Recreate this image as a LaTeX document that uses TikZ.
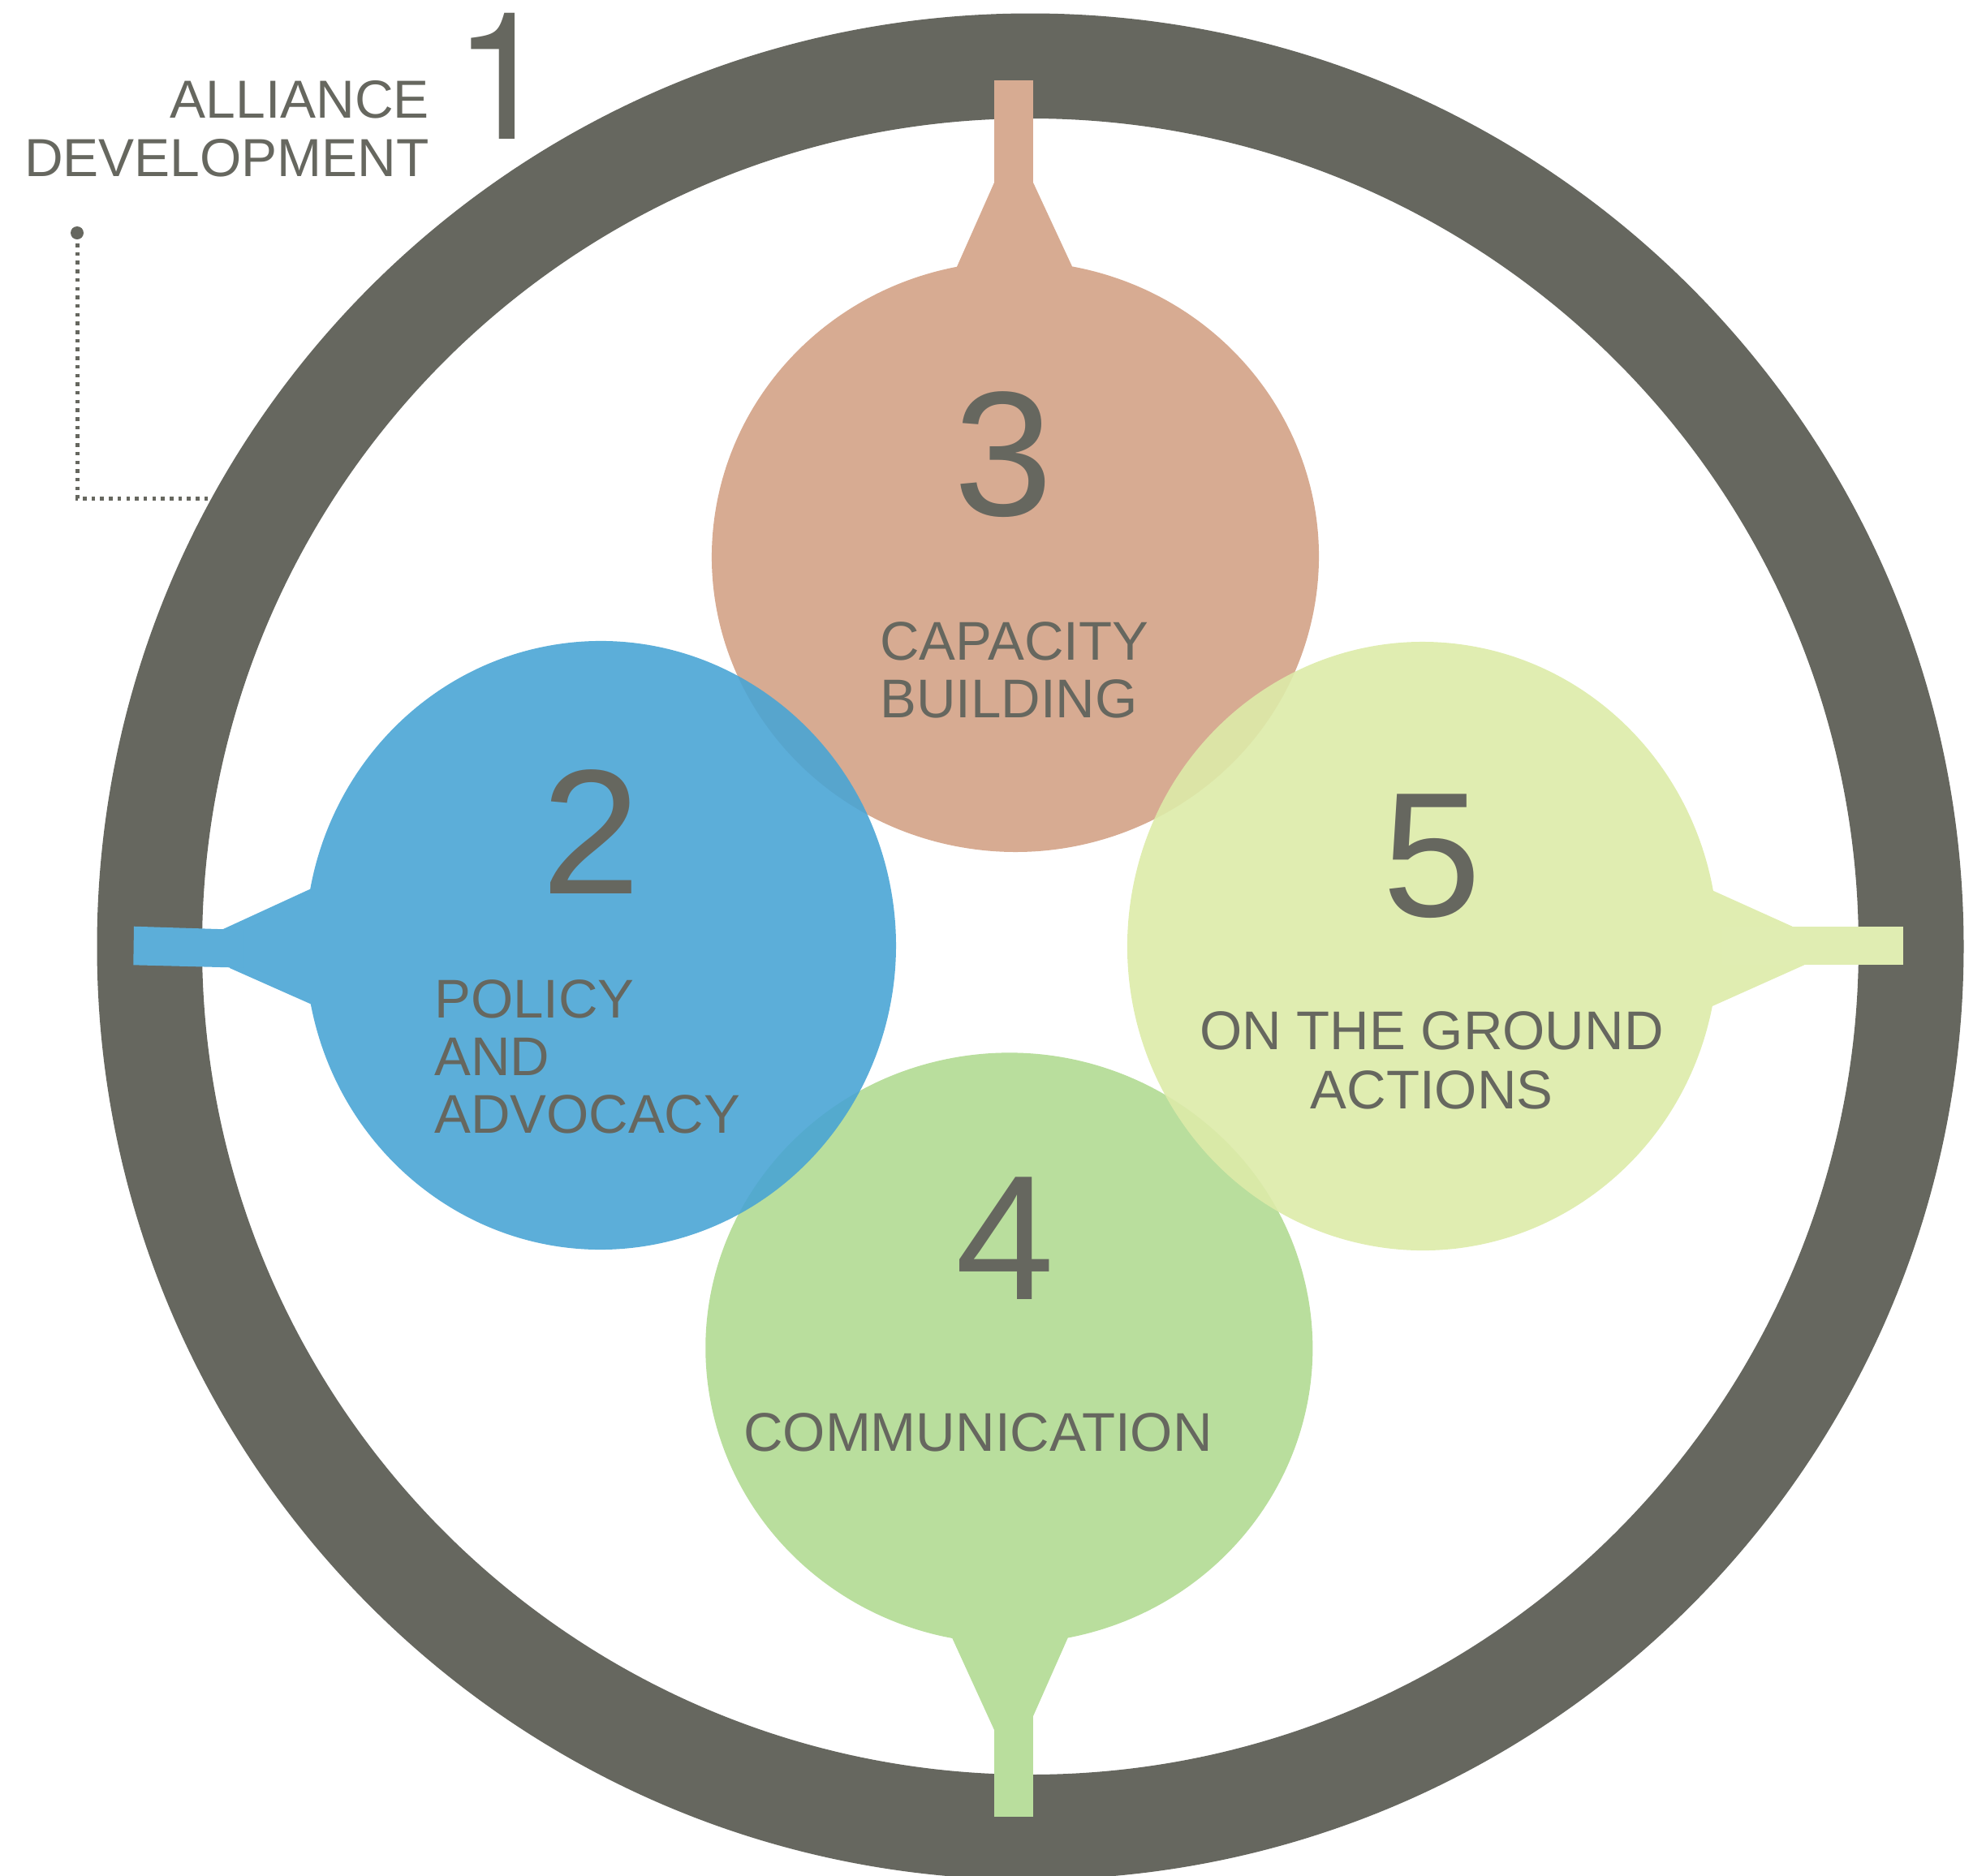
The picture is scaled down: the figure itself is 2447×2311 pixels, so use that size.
\documentclass[tikz,border=0pt]{standalone}
\usepackage{fontspec}
\setmainfont{Liberation Sans}
\newfontfamily\onefont{TeX Gyre Heros}
\definecolor{ringgray}{RGB}{102,103,95}
\definecolor{tanb}{RGB}{211,162,134}
\definecolor{tanobs}{RGB}{215,171,146}
\definecolor{blueb}{RGB}{74,165,213}
\definecolor{blueobs}{RGB}{92,174,217}
\definecolor{lgb}{RGB}{221,235,169}
\definecolor{lgobs}{RGB}{224,237,178}
\definecolor{grb}{RGB}{177,218,146}
\definecolor{grobs}{RGB}{185,222,157}
\tikzset{
  lbl/.style={font=\fontsize{66}{72}\selectfont, text=ringgray, inner sep=0pt},
  inlbl/.style={font=\fontsize{67.2}{72}\selectfont, text=ringgray, inner sep=0pt},
  num/.style={font=\fontsize{219}{240}\selectfont, text=ringgray, inner sep=0pt, anchor=base},
  bubble/.style={fill opacity=0.9},
  leader/.style={draw=ringgray, line width=5pt, dash pattern=on 4.5pt off 6.2pt},
}
\begin{document}
\begin{tikzpicture}[x=1pt,y=-1pt]
\useasboundingbox (0,0) rectangle (2447,2311);
\clip (0,0) rectangle (2447,2311);
% leader line
\coordinate (dotA) at (95,287);
\coordinate (dotS) at (95,300);
\coordinate (bend) at (95,614);
\coordinate (ringhit) at (266,614);
\draw[leader] (dotS) -- (bend) -- (ringhit);
\fill[ringgray] (dotA) circle[radius=8];
% outer ring
\coordinate (rc) at (1269.5,1166.5);
\fill[ringgray, even odd rule] (rc) circle[radius=1150] (rc) circle[radius=1020.5];
% bubble 3 (top)
\fill[tanb,bubble] (1321,328.4) arc[start angle=-79.21, end angle=258.90, x radius=374, y radius=364] -- (1225,225) -- (1273,225) -- cycle;
\fill[tanobs] (1225,99) rectangle (1273,300);
% bubble 4 (bottom)
\fill[grb,bubble] (1315.7,2018.5) arc[start angle=78.84, end angle=-259.21, x radius=374, y radius=364] -- (1225,2132) -- (1273,2115) -- cycle;
\fill[grobs] (1225,2040) rectangle (1273,2239);
% bubble 2 (left)
\fill[blueb,bubble] (382.8,1237.3) arc[start angle=168.88, end angle=-169.35, x radius=364, y radius=375] -- (275,1145) -- (283,1193) -- cycle;
\fill[blueobs] (165,1141.7) -- (300,1146) -- (300,1192.7) -- (164.3,1189.3) -- cycle;
% bubble 5 (right)
\fill[lgb,bubble] (2109.8,1240) arc[start angle=11.38, end angle=349.51, x radius=364, y radius=375] -- (2208.3,1141.7) -- (2223,1189.3) -- cycle;
\fill[lgobs] (2121.7,1141.7) rectangle (2345,1189.3);
% texts
\node[lbl, anchor=base east] (t1a) at (529,145) {ALLIANCE};
\node[lbl, anchor=base east] (t1b) at (529,217) {DEVELOPMENT};
\node[num, font=\fontsize{219}{240}\onefont] (n1) at (619,171) {1};
\node[num] (n3) at (1236.5,635) {3};
\node[inlbl, anchor=base west] (t3a) at (1084,813) {CAPACITY};
\node[inlbl, anchor=base west] (t3b) at (1084,884) {BUILDING};
\node[num] (n2) at (728,1101) {2};
\node[inlbl, anchor=base west] (t2a) at (535,1254) {POLICY};
\node[inlbl, anchor=base west] (t2b) at (535,1325) {AND};
\node[inlbl, anchor=base west] (t2c) at (535,1396) {ADVOCACY};
\node[num] (n5) at (1764,1129) {5};
\node[inlbl, anchor=base] (t5a) at (1764,1293) {ON THE GROUND};
\node[inlbl, anchor=base] (t5b) at (1764,1366) {ACTIONS};
\node[num] (n4) at (1238,1601) {4};
\node[inlbl, anchor=base west] (t4) at (916,1788) {COMMUNICATION};
\end{tikzpicture}
\end{document}
